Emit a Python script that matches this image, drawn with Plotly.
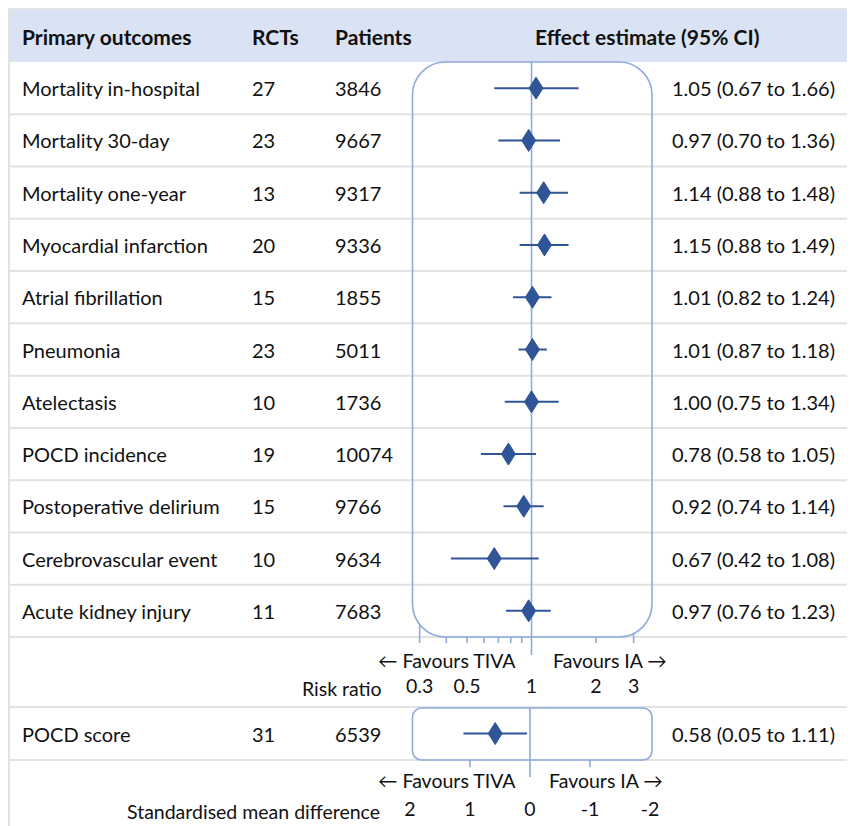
import math
import plotly.graph_objects as go

# ---------------- data ----------------
outcomes = ["Mortality in-hospital", "Mortality 30-day", "Mortality one-year",
            "Myocardial infarction", "Atrial fibrillation", "Pneumonia",
            "Atelectasis", "POCD incidence", "Postoperative delirium",
            "Cerebrovascular event", "Acute kidney injury"]
rcts = [27, 23, 13, 20, 15, 23, 10, 19, 15, 10, 11]
patients = [3846, 9667, 9317, 9336, 1855, 5011, 1736, 10074, 9766, 9634, 7683]
rr_est = [1.05, 0.97, 1.14, 1.15, 1.01, 1.01, 1.00, 0.78, 0.92, 0.67, 0.97]
rr_lo = [0.67, 0.70, 0.88, 0.88, 0.82, 0.87, 0.75, 0.58, 0.74, 0.42, 0.76]
rr_hi = [1.66, 1.36, 1.48, 1.49, 1.24, 1.18, 1.34, 1.05, 1.14, 1.08, 1.23]

smd_outcome = ["POCD score"]
smd_rcts = [31]
smd_patients = [6539]
smd_est = [0.58]
smd_lo = [0.05]
smd_hi = [1.11]

rr_tick_labels = [0.3, 0.5, 1, 2, 3]
rr_tick_marks = [0.3, 0.4, 0.5, 0.6, 0.7, 0.8, 0.9, 2, 3]
smd_tick_labels = [2, 1, 0, -1, -2]
smd_tick_marks = [1, -1]

headers = ["Primary outcomes", "RCTs", "Patients", "Effect estimate (95% CI)"]

# ---------------- layout constants ----------------
WIN_W, WIN_H = 855, 826
OFF = 8                      # page body margin
W, H = WIN_W - OFF, WIN_H - OFF
FONT = "Lato, 'Open Sans', sans-serif"
FS = 20
FS_AX = 19.5
TXT = "#111111"
DARK = "#2F5597"
LIGHT = "#8FAADC"
GRID = "#E2E2E2"
HEAD_BG = "#DAE3F3"

top_line = 8.5
head_bot = 62
row_h = (637 - head_bot) / len(outcomes)
rows_bot = head_bot + row_h * len(outcomes)
axis1_bot = rows_bot + 70
smd_bot = axis1_bot + 53

def row_y(i):
    return head_bot + row_h * (i + 0.5)

smd_y = (axis1_bot + smd_bot) / 2

# log axis: value 1 at window pixel 531.5, 214 px per decade
px_one, px_dec = 531.5, 214.0
log_range = [(OFF - px_one) / px_dec, (WIN_W - px_one) / px_dec]
# SMD axis: 0 at window pixel 530, 60 px per unit, reversed
px_zero, px_unit = 530.0, 60.0
smd_range = [(px_zero - OFF) / px_unit, (px_zero - WIN_W) / px_unit]

def P(px):
    return (px - OFF) / W

def rr_px(v):
    return px_one + px_dec * math.log10(v)

col_name, col_rct, col_pat, col_eff = 20, 250, 333, 670

fig = go.Figure()

# ---------------- shapes ----------------
shapes = []
shapes.append(dict(type="rect", xref="paper", yref="y", x0=P(8), x1=1,
                   y0=top_line + 1, y1=head_bot, fillcolor=HEAD_BG, line_width=0, layer="below"))
shapes.append(dict(type="line", xref="paper", yref="y", x0=0, x1=1,
                   y0=top_line, y1=top_line, line=dict(color=GRID, width=2), layer="below"))
shapes.append(dict(type="line", xref="paper", yref="y", x0=P(9), x1=P(9),
                   y0=top_line, y1=WIN_H, line=dict(color=GRID, width=2), layer="below"))
grid_ys = [head_bot + row_h * (i + 1) for i in range(len(outcomes))] + [axis1_bot, smd_bot]
for gy in grid_ys:
    shapes.append(dict(type="line", xref="paper", yref="y", x0=P(8), x1=1,
                       y0=gy, y1=gy, line=dict(color=GRID, width=2), layer="below"))

def rrect(x0, x1, y0, y1, r):
    k = 0.5523 * r
    X = lambda v: f"{P(v):.6f}"
    pts = [
        f"M {X(x0 + r)},{y0}", f"L {X(x1 - r)},{y0}",
        f"C {X(x1 - r + k)},{y0} {X(x1)},{y0 + r - k} {X(x1)},{y0 + r}",
        f"L {X(x1)},{y1 - r}",
        f"C {X(x1)},{y1 - r + k} {X(x1 - r + k)},{y1} {X(x1 - r)},{y1}",
        f"L {X(x0 + r)},{y1}",
        f"C {X(x0 + r - k)},{y1} {X(x0)},{y1 - r + k} {X(x0)},{y1 - r}",
        f"L {X(x0)},{y0 + r}",
        f"C {X(x0)},{y0 + r - k} {X(x0 + r - k)},{y0} {X(x0 + r)},{y0}",
        "Z",
    ]
    return " ".join(pts)

box_l, box_r, box_rad = 412.5, 652.0, 33.0
shapes.append(dict(type="path", xref="paper", yref="y",
                   path=rrect(box_l, box_r, head_bot, rows_bot, box_rad),
                   line=dict(color=LIGHT, width=1.6), layer="above"))
shapes.append(dict(type="path", xref="paper", yref="y",
                   path=rrect(box_l, box_r, axis1_bot + 1, smd_bot, 9),
                   line=dict(color=LIGHT, width=1.6), layer="above"))

# ---------------- RR axis ticks ----------------
def tick_top(px):
    cxl, cxr, cy = box_l + box_rad, box_r - box_rad, rows_bot - box_rad
    if px < cxl:
        return cy + math.sqrt(max(box_rad ** 2 - (px - cxl) ** 2, 0))
    if px > cxr:
        return cy + math.sqrt(max(box_rad ** 2 - (px - cxr) ** 2, 0))
    return rows_bot

tx, ty = [], []
for v in rr_tick_marks:
    tx += [v, v, None]
    ty += [tick_top(rr_px(v)), rows_bot + 6, None]
fig.add_trace(go.Scatter(x=tx, y=ty, mode="lines", line=dict(color=LIGHT, width=1.6),
                         hoverinfo="skip", showlegend=False, xaxis="x", yaxis="y"))
fig.add_trace(go.Scatter(x=[1, 1], y=[head_bot, rows_bot + 18], mode="lines",
                         line=dict(color=LIGHT, width=1.6), hoverinfo="skip",
                         showlegend=False, xaxis="x", yaxis="y"))

sx, sy = [], []
for v in smd_tick_marks:
    sx += [v, v, None]
    sy += [smd_bot, smd_bot + 7, None]
fig.add_trace(go.Scatter(x=sx, y=sy, mode="lines", line=dict(color=LIGHT, width=1.6),
                         hoverinfo="skip", showlegend=False, xaxis="x2", yaxis="y"))
fig.add_trace(go.Scatter(x=[0, 0], y=[axis1_bot + 1, smd_bot + 17], mode="lines",
                         line=dict(color=LIGHT, width=1.6), hoverinfo="skip",
                         showlegend=False, xaxis="x2", yaxis="y"))

# ---------------- estimates (CI lines + diamonds) ----------------
DIA_HW_PX, DIA_HH_PX = 7.0, 11.0
ys = [row_y(i) for i in range(len(outcomes))]

cx, cy = [], []
dx, dy = [], []
f = 10 ** (DIA_HW_PX / px_dec)
for e, l, h, y in zip(rr_est, rr_lo, rr_hi, ys):
    cx += [l, h, None]
    cy += [y, y, None]
    dx += [e / f, e, e * f, e, e / f, None]
    dy += [y, y - DIA_HH_PX, y, y + DIA_HH_PX, y, None]
fig.add_trace(go.Scatter(x=cx, y=cy, mode="lines", line=dict(color=DARK, width=2),
                         xaxis="x", yaxis="y", showlegend=False, hoverinfo="skip"))
fig.add_trace(go.Scatter(x=dx, y=dy, mode="lines", fill="toself", fillcolor=DARK,
                         line=dict(color=DARK, width=1), xaxis="x", yaxis="y",
                         showlegend=False, hoverinfo="skip"))

scx, scy, sdx, sdy = [], [], [], []
hw = DIA_HW_PX / px_unit
for e, l, h in zip(smd_est, smd_lo, smd_hi):
    scx += [l, h, None]
    scy += [smd_y, smd_y, None]
    sdx += [e - hw, e, e + hw, e, e - hw, None]
    sdy += [smd_y, smd_y - DIA_HH_PX, smd_y, smd_y + DIA_HH_PX, smd_y, None]
fig.add_trace(go.Scatter(x=scx, y=scy, mode="lines", line=dict(color=DARK, width=2),
                         xaxis="x2", yaxis="y", showlegend=False, hoverinfo="skip"))
fig.add_trace(go.Scatter(x=sdx, y=sdy, mode="lines", fill="toself", fillcolor=DARK,
                         line=dict(color=DARK, width=1), xaxis="x2", yaxis="y",
                         showlegend=False, hoverinfo="skip"))

# tick labels through the axes
fig.add_trace(go.Scatter(x=rr_tick_labels, y=[rows_bot + 51] * len(rr_tick_labels),
                         mode="text", text=[f"{v:g}" for v in rr_tick_labels],
                         textfont=dict(family=FONT, size=FS_AX, color=TXT),
                         xaxis="x", yaxis="y", showlegend=False, hoverinfo="skip"))
fig.add_trace(go.Scatter(x=smd_tick_labels, y=[smd_bot + 51] * len(smd_tick_labels),
                         mode="text", text=[f"{v:g}" for v in smd_tick_labels],
                         textfont=dict(family=FONT, size=FS_AX, color=TXT),
                         xaxis="x2", yaxis="y", showlegend=False, hoverinfo="skip"))

# ---------------- text annotations ----------------
ann = []
def add(text, px, py, anchor="left", bold=False, size=FS):
    t = f"<b>{text}</b>" if bold else text
    ann.append(dict(text=t, x=P(px), y=py, xref="paper", yref="y", xanchor=anchor,
                    yanchor="middle", showarrow=False,
                    font=dict(family=FONT, size=size, color=TXT)))

hy = (top_line + head_bot) / 2 + 1
add(headers[0], col_name, hy, bold=True, size=21)
add(headers[1], col_rct, hy, bold=True, size=21)
add(headers[2], col_pat, hy, bold=True, size=21)
add(headers[3], 647, hy, anchor="center", bold=True, size=21)

for i, name in enumerate(outcomes):
    y = row_y(i)
    add(name, col_name, y)
    add(str(rcts[i]), col_rct, y)
    add(str(patients[i]), col_pat, y)
    add(f"{rr_est[i]:.2f} ({rr_lo[i]:.2f} to {rr_hi[i]:.2f})", col_eff, y)

add(smd_outcome[0], col_name, smd_y)
add(str(smd_rcts[0]), col_rct, smd_y)
add(str(smd_patients[0]), col_pat, smd_y)
add(f"{smd_est[0]:.2f} ({smd_lo[0]:.2f} to {smd_hi[0]:.2f})", col_eff, smd_y)

add("\u2190 Favours TIVA", 518, rows_bot + 23, anchor="right", size=FS_AX)
add("Favours IA \u2192", 551, rows_bot + 23, anchor="left", size=FS_AX)
add("Risk ratio", 384, rows_bot + 51, anchor="right", size=FS_AX)
add("\u2190 Favours TIVA", 518, smd_bot + 20, anchor="right", size=FS_AX)
add("Favours IA \u2192", 547, smd_bot + 20, anchor="left", size=FS_AX)
add("Standardised mean difference", 382, smd_bot + 51, anchor="right", size=FS_AX)

fig.update_layout(
    width=W, height=H, margin=dict(l=0, r=0, t=0, b=0),
    paper_bgcolor="white", plot_bgcolor="white",
    shapes=shapes, annotations=ann, showlegend=False,
    xaxis=dict(type="log", range=log_range, visible=False, domain=[0, 1], fixedrange=True),
    xaxis2=dict(range=smd_range, visible=False, overlaying="x", domain=[0, 1], fixedrange=True),
    yaxis=dict(range=[WIN_H, OFF], visible=False, domain=[0, 1], fixedrange=True),
)

fig.write_html("out.html")
